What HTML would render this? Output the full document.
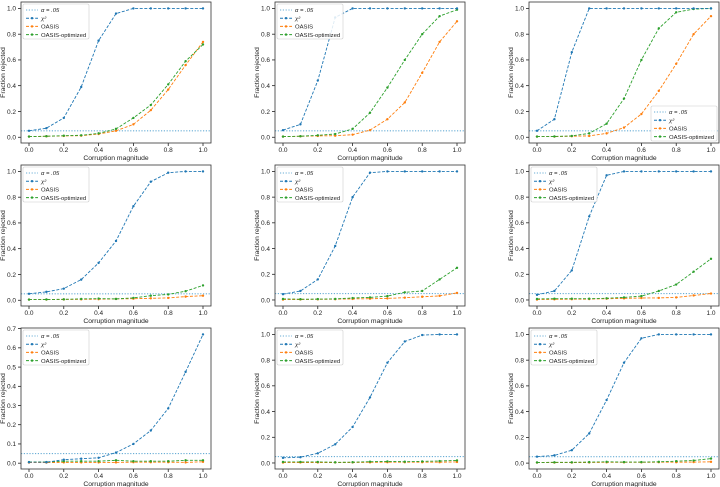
<!DOCTYPE html>
<html><head><meta charset="utf-8">
<style>
html,body{margin:0;padding:0;background:#fff;}
svg{display:block;font-family:"Liberation Sans","DejaVu Sans",sans-serif;}
</style></head>
<body>
<svg id="fig" width="720" height="487" viewBox="0 0 720 487" xmlns="http://www.w3.org/2000/svg"></svg>
<script>
const xValues = [0,0.1,0.2,0.3,0.4,0.5,0.6,0.7,0.8,0.9,1.0];
const xTickLabels = ["0.0","0.2","0.4","0.6","0.8","1.0"];
const alphaLevel = 0.05;
const seriesNames = ["\u03b1 = .05","\u03c7\u00b2","OASIS","OASIS-optimized"];
const chi2Series = [
 [.05,.07,.15,.39,.75,.96,1,1,1,1,1],
 [.055,.10,.44,.93,1,1,1,1,1,1,1],
 [.05,.14,.66,1,1,1,1,1,1,1,1],
 [.05,.065,.09,.16,.29,.46,.73,.92,.99,1,1],
 [.045,.07,.16,.42,.8,.99,1,1,1,1,1],
 [.04,.07,.23,.65,.97,1,1,1,1,1,1],
 [.005,.005,.018,.023,.028,.055,.1,.17,.285,.475,.67],
 [.04,.045,.075,.145,.28,.51,.78,.945,.995,1,1],
 [.05,.06,.1,.23,.49,.78,.97,1,1,1,1]
];
const oasisSeries = [
 [.005,.007,.01,.012,.025,.05,.1,.21,.37,.56,.74],
 [.005,.007,.01,.012,.02,.055,.14,.27,.5,.74,.9],
 [.005,.005,.008,.01,.03,.075,.18,.36,.57,.8,.94],
 [.005,.005,.006,.007,.008,.01,.012,.015,.018,.028,.035],
 [.003,.004,.005,.006,.008,.01,.012,.018,.025,.032,.055],
 [.003,.005,.006,.007,.01,.012,.015,.016,.02,.035,.05],
 [.003,.003,.004,.004,.004,.004,.005,.005,.005,.004,.007],
 [.003,.004,.004,.004,.004,.005,.006,.006,.006,.006,.008],
 [.004,.004,.004,.005,.006,.006,.006,.007,.007,.008,.01]
];
const optSeries = [
 [.005,.008,.012,.015,.03,.065,.15,.25,.41,.59,.72],
 [.005,.008,.015,.025,.065,.19,.385,.6,.8,.94,.99],
 [.005,.006,.01,.03,.105,.3,.6,.845,.97,.995,1],
 [.005,.006,.007,.01,.013,.01,.018,.035,.045,.07,.115],
 [.008,.006,.007,.008,.015,.02,.03,.06,.07,.16,.25],
 [.008,.01,.01,.01,.013,.02,.03,.07,.12,.22,.32],
 [.006,.006,.01,.01,.01,.015,.01,.01,.01,.015,.015],
 [.008,.008,.008,.005,.006,.01,.012,.01,.012,.015,.02],
 [.005,.006,.006,.008,.01,.008,.008,.01,.015,.02,.035]
];
const legendLowerRight = [false,false,true,false,false,false,false,false,false];

const NS="http://www.w3.org/2000/svg";
const svg=document.getElementById('fig');
function mk(tag,attrs,parent){const e=document.createElementNS(NS,tag);for(const k in attrs)e.setAttribute(k,attrs[k]);(parent||svg).appendChild(e);return e;}
const colors={chi:"#1f77b4",oa:"#ff7f0e",op:"#2ca02c",alpha:"#6aaed6"};
const colLeft=[21,275,529], rowTop=[2,165,328], W=190, H=141;

for(let p=0;p<9;p++){
  const r=Math.floor(p/3), c=p%3;
  const L=colLeft[c], T=rowTop[r];
  const g=mk('g',{});
  
  
  const all=chi2Series[p].concat(oasisSeries[p],optSeries[p],[alphaLevel]);
  const mn=Math.min(...all), mx=Math.max(...all), span=mx-mn;
  const y0=mn-0.05*span, y1=mx+0.05*span;
  const xs=v=>L+8+(v)*(W-16)/(1.0);
  const ys=v=>T+H-(v-y0)/(y1-y0)*H;
  xTickLabels.forEach(t=>{const v=parseFloat(t);const x=xs(v);
    mk('line',{x1:x,x2:x,y1:T+H,y2:T+H+3,stroke:'#000','stroke-width':0.7},g);
    const tx=mk('text',{x:x,y:T+H+9,'font-size':6.5,'text-anchor':'middle',fill:'#222'},g);tx.textContent=t;
    
    });
  const step=(y1-y0)<0.9?0.1:0.2;
  for(let v=0;v<=y1+1e-9;v+=step){const y=ys(v);
    mk('line',{x1:L-3,x2:L,y1:y,y2:y,stroke:'#000','stroke-width':0.7},g);
    const ty=mk('text',{x:L-5,y:y+2.3,'font-size':6.5,'text-anchor':'end',fill:'#222'},g);ty.textContent=v.toFixed(1);
    
    }
  const xl=mk('text',{x:L+W/2,y:T+H+17,'font-size':6.8,'text-anchor':'middle',fill:'#222'},g);xl.textContent='Corruption magnitude';
  
  
  const yl=mk('text',{x:0,y:0,'font-size':6.8,'text-anchor':'middle',fill:'#222',transform:`translate(${L-16},${T+H/2}) rotate(-90)`},g);yl.textContent='Fraction rejected';
  
  
  const al=mk('line',{x1:L,x2:L+W,y1:ys(alphaLevel),y2:ys(alphaLevel),stroke:colors.alpha,'stroke-width':1.1,'stroke-dasharray':'1.2,1.6'},g);
  
  
  const series=[[oasisSeries[p],colors.oa,'oasis-line'],[optSeries[p],colors.op,'oasis-optimized-line'],[chi2Series[p],colors.chi,'chi2-line']];
  series.forEach(([d,col,name])=>{
    const pts=d.map((v,i)=>xs(xValues[i]).toFixed(1)+','+ys(v).toFixed(1)).join(' ');
    const pl=mk('polyline',{points:pts,fill:'none',stroke:col,'stroke-width':0.9,'stroke-dasharray':'3,1.6'},g);
    
    
    d.forEach((v,i)=>{const m=mk('circle',{cx:xs(xValues[i]),cy:ys(v),r:1.2,fill:col},g);
      
      });
  });
  mk('rect',{x:L,y:T,width:W,height:H,fill:'none',stroke:'#333','stroke-width':0.8},g);
  const lw=66, lh=35;
  const lx=legendLowerRight[p]?L+W-lw-2:L+2, ly=legendLowerRight[p]?T+H-lh-2:T+2;
  const lg=mk('g',{},g);
  
  
  mk('rect',{x:lx,y:ly,width:lw,height:lh,fill:'#fff','fill-opacity':0.85,stroke:'#ccc','stroke-width':0.6,rx:1.5},lg);
  const lc=[colors.alpha,colors.chi,colors.oa,colors.op];
  seriesNames.forEach((n,i)=>{
    const yy=ly+6+i*8.2;
    mk('line',{x1:lx+3,x2:lx+15,y1:yy,y2:yy,stroke:lc[i],'stroke-width':1,'stroke-dasharray':i==0?'1.2,1.6':'3,1.6'},lg);
    if(i>0)mk('circle',{cx:lx+9,cy:yy,r:1.2,fill:lc[i]},lg);
    const t=mk('text',{x:lx+18,y:yy+2.2,'font-size':5.9,fill:'#222','font-style':i<2?'italic':'normal'},lg);t.textContent=n;
    
    
  });
}
</script>
</body></html>
